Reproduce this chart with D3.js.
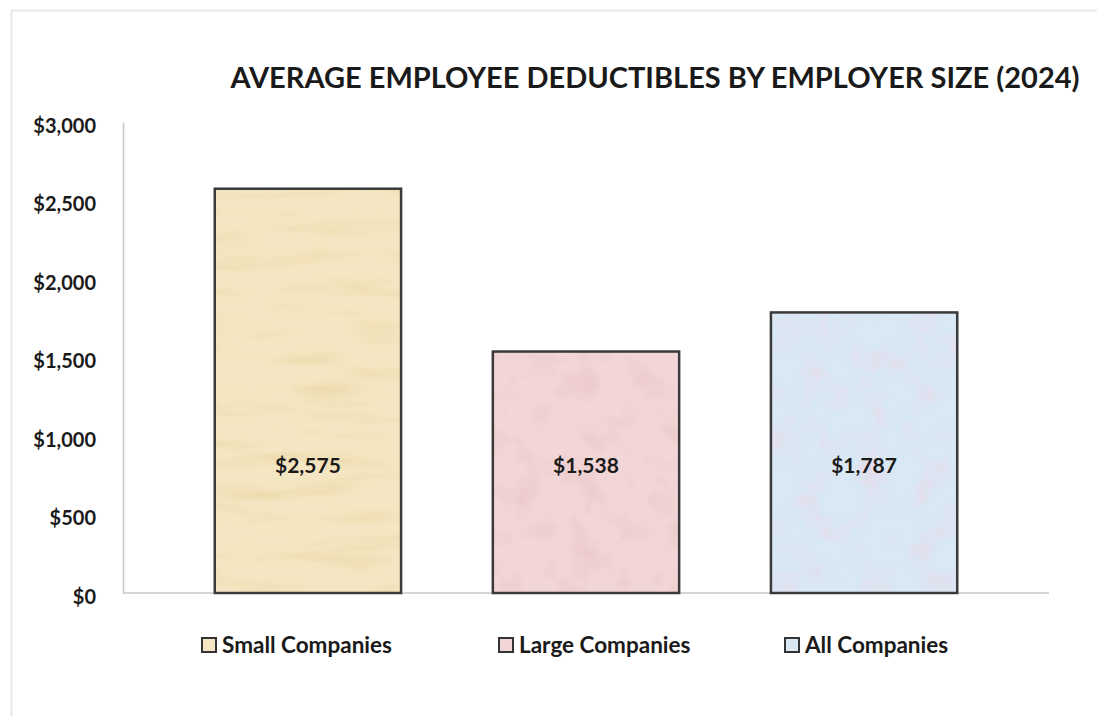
<!DOCTYPE html>
<html>
<head>
<meta charset="utf-8">
<script src="https://cdn.jsdelivr.net/npm/d3@7"></script>
<style>
    body { margin: 0; background: #fff; }
    svg { display: block; font-family: Lato, 'Open Sans', sans-serif; }
</style>
</head>
<body>
<svg id="chart" width="1097" height="716"></svg>
<script>
// chart data
const categories = ['Small Companies', 'Large Companies', 'All Companies'];
const deductibles = [2575, 1538, 1787];
const yTicks = [0, 500, 1000, 1500, 2000, 2500, 3000];
const barColors = ['#f5e6c3', '#f2d5d6', '#d8e8f5'];
const barTints = ['#ead59f', '#e9c3c6', '#efd3e3'];

const svg = d3.select('#chart');

const plot = { left: 123, right: 1049, top: 122, bottom: 593 };

// outer frame
svg.append('rect')
    .attr('x', 11.5).attr('y', 10.5)
    .attr('width', 1100).attr('height', 720)
    .attr('fill', 'none')
    .attr('stroke', '#e4e7eb')
    .attr('stroke-width', 2);

// texture filters (deterministic turbulence)
const defs = svg.append('defs');
barColors.forEach((c, i) => {
    const f = defs.append('filter')
        .attr('id', 'tex' + i)
        .attr('x', 0).attr('y', 0).attr('width', 1).attr('height', 1);
    f.append('feTurbulence')
        .attr('type', 'fractalNoise')
        .attr('baseFrequency', i === 0 ? '0.01 0.06' : '0.035')
        .attr('numOctaves', 3)
        .attr('seed', i + 2)
        .attr('result', 'noise');
    f.append('feColorMatrix')
        .attr('in', 'noise')
        .attr('type', 'matrix')
        .attr('values', '0 0 0 0 0  0 0 0 0 0  0 0 0 0 0  0 0 0 1.4 -0.65')
        .attr('result', 'mask');
    f.append('feFlood').attr('flood-color', barTints[i]).attr('result', 'tint');
    f.append('feComposite').attr('in', 'tint').attr('in2', 'mask').attr('operator', 'in').attr('result', 'spots');
    f.append('feComposite').attr('in', 'spots').attr('in2', 'SourceGraphic').attr('operator', 'atop');
});

const x = d3.scaleBand()
    .domain(categories)
    .range([plot.left, plot.right])
    .paddingInner(0.33)
    .paddingOuter(0.33);

const y = d3.scaleLinear()
    .domain([0, 3000])
    .range([plot.bottom, plot.top]);

// y axis
const yAxis = svg.append('g')
    .attr('transform', `translate(${plot.left},0)`)
    .call(d3.axisLeft(y).tickValues(yTicks).tickSize(0).tickPadding(27)
        .tickFormat(d => '$' + d3.format(',')(d)));
yAxis.select('.domain').attr('stroke', '#c8c8c8').attr('stroke-width', 1.5);
yAxis.selectAll('text')
    .attr('dy', '0.5em')
    .attr('font-size', 20)
    .attr('font-weight', 'bold')
    .attr('fill', '#1a1a1a')
    .attr('font-family', 'Lato, sans-serif');

// baseline
svg.append('line')
    .attr('x1', plot.left).attr('x2', plot.right)
    .attr('y1', y(0)).attr('y2', y(0))
    .attr('stroke', '#c8c8c8')
    .attr('stroke-width', 1.5);

// bars: textured fill, then outline
const bars = svg.append('g');
bars.selectAll('rect.fill')
    .data(deductibles)
    .join('rect')
    .attr('class', 'fill')
    .attr('x', (d, i) => x(categories[i]))
    .attr('y', d => y(d))
    .attr('width', x.bandwidth())
    .attr('height', d => y(0) - y(d))
    .attr('fill', (d, i) => barColors[i])
    .attr('filter', (d, i) => `url(#tex${i})`);
bars.selectAll('rect.edge')
    .data(deductibles)
    .join('rect')
    .attr('class', 'edge')
    .attr('x', (d, i) => x(categories[i]))
    .attr('y', d => y(d))
    .attr('width', x.bandwidth())
    .attr('height', d => y(0) - y(d))
    .attr('fill', 'none')
    .attr('stroke', '#3a3a3a')
    .attr('stroke-width', 2.5);

// value labels
svg.append('g')
    .selectAll('text')
    .data(deductibles)
    .join('text')
    .attr('x', (d, i) => x(categories[i]) + x.bandwidth() / 2)
    .attr('y', 473)
    .attr('text-anchor', 'middle')
    .attr('font-size', 21)
    .attr('font-weight', 'bold')
    .attr('fill', '#1a1a1a')
    .text(d => '$' + d3.format(',')(d));

// title
svg.append('text')
    .attr('x', 655)
    .attr('y', 88)
    .attr('text-anchor', 'middle')
    .attr('font-size', 29)
    .attr('font-weight', 'bold')
    .attr('fill', '#1a1a1a')
    .text('AVERAGE EMPLOYEE DEDUCTIBLES BY EMPLOYER SIZE (2024)');

// legend
const legendX = [201, 498, 784];
const legend = svg.append('g')
    .selectAll('g')
    .data(categories)
    .join('g')
    .attr('transform', (d, i) => `translate(${legendX[i]},645)`);
legend.append('rect')
    .attr('x', 1).attr('y', -7)
    .attr('width', 14).attr('height', 14)
    .attr('fill', (d, i) => barColors[i])
    .attr('stroke', '#333')
    .attr('stroke-width', 2);
legend.append('text')
    .attr('x', 21)
    .attr('y', 8)
    .attr('font-size', 22.5)
    .attr('font-weight', 'bold')
    .attr('fill', '#1a1a1a')
    .text(d => d);
</script>
</body>
</html>
